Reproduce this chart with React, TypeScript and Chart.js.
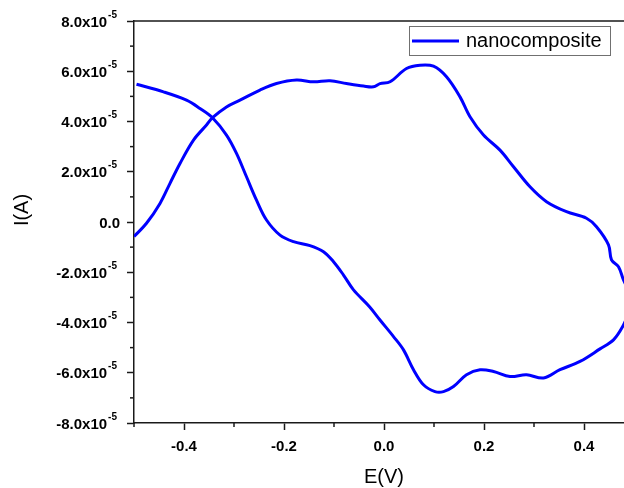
import React, { useEffect, useRef } from "react";
import { Chart, registerables } from "chart.js";

Chart.register(...registerables);

// Cyclic voltammogram of the nanocomposite (E in V, I in A)
const potentialV = [
  -0.5, -0.475, -0.448, -0.428, -0.408, -0.381, -0.355, -0.343, -0.315, -0.288,
  -0.248, -0.215, -0.175, -0.141, -0.108, -0.075, -0.041, -0.021, -0.008, 0.012,
  0.045, 0.072, 0.099, 0.125, 0.152, 0.172, 0.199, 0.232, 0.259, 0.292,
  0.325, 0.365, 0.405, 0.425, 0.449, 0.455, 0.469, 0.479, 0.488, 0.492,
  0.488, 0.479, 0.459, 0.432, 0.392, 0.352, 0.319, 0.285, 0.252, 0.219,
  0.192, 0.165, 0.139, 0.119, 0.102, 0.079, 0.059, 0.039, 0.019, -0.008,
  -0.029, -0.061, -0.081, -0.101, -0.121, -0.148, -0.181, -0.208, -0.235, -0.255,
  -0.275, -0.295, -0.315, -0.343, -0.368, -0.395, -0.441, -0.495,
];

const currentA = [
  -0.58e-5, -0.05e-5, 0.74e-5, 1.54e-5, 2.33e-5, 3.26e-5, 3.86e-5, 4.15e-5, 4.58e-5, 4.85e-5,
  5.25e-5, 5.51e-5, 5.65e-5, 5.58e-5, 5.62e-5, 5.51e-5, 5.41e-5, 5.38e-5, 5.51e-5, 5.58e-5,
  6.11e-5, 6.24e-5, 6.2e-5, 5.78e-5, 4.98e-5, 4.19e-5, 3.46e-5, 2.86e-5, 2.2e-5, 1.4e-5,
  0.81e-5, 0.41e-5, 0.15e-5, -0.19e-5, -0.91e-5, -1.51e-5, -1.78e-5, -2.31e-5, -2.7e-5, -3.18e-5,
  -3.66e-5, -4.1e-5, -4.69e-5, -5.05e-5, -5.55e-5, -5.88e-5, -6.21e-5, -6.08e-5, -6.15e-5, -5.95e-5,
  -5.88e-5, -6.08e-5, -6.55e-5, -6.75e-5, -6.75e-5, -6.48e-5, -5.88e-5, -5.09e-5, -4.56e-5, -3.9e-5,
  -3.37e-5, -2.7e-5, -2.11e-5, -1.58e-5, -1.18e-5, -0.94e-5, -0.78e-5, -0.52e-5, 0.08e-5, 0.87e-5,
  1.8e-5, 2.73e-5, 3.46e-5, 4.15e-5, 4.52e-5, 4.85e-5, 5.18e-5, 5.48e-5,
];

const xMajorTicks = [-0.4, -0.2, 0, 0.2, 0.4];
const xMinorTicks = [-0.5, -0.3, -0.1, 0.1, 0.3, 0.5];
const yMajorTicks = [-8e-5, -6e-5, -4e-5, -2e-5, 0, 2e-5, 4e-5, 6e-5, 8e-5];
const yMinorTicks = [-7e-5, -5e-5, -3e-5, -1e-5, 1e-5, 3e-5, 5e-5, 7e-5];
const yExponent = -5;

const seriesLabel = "nanocomposite";
const xTitle = "E(V)";
const yTitle = "I(A)";

const FONT = "'Liberation Sans', Arial, Helvetica, sans-serif";
const AXIS = "#1a1a1a";
const BLUE = "rgb(0,0,255)";

const decorPlugin = {
  id: "decor",
  afterDraw(chart: any) {
    const { ctx, chartArea, scales } = chart;
    const xs = scales.x;
    const ys = scales.y;
    ctx.save();
    ctx.strokeStyle = AXIS;
    ctx.lineWidth = 1.5;
    ctx.beginPath();
    ctx.moveTo(chartArea.left, chartArea.top);
    ctx.lineTo(chartArea.right, chartArea.top);
    ctx.lineTo(chartArea.right, chartArea.bottom);
    ctx.stroke();

    // minor ticks
    xMinorTicks.forEach((v) => {
      const px = xs.getPixelForValue(v);
      ctx.beginPath();
      ctx.moveTo(px, chartArea.bottom);
      ctx.lineTo(px, chartArea.bottom + 4);
      ctx.stroke();
    });
    yMinorTicks.forEach((v) => {
      const py = ys.getPixelForValue(v);
      ctx.beginPath();
      ctx.moveTo(chartArea.left - 4, py);
      ctx.lineTo(chartArea.left, py);
      ctx.stroke();
    });

    // y tick labels with superscript exponent
    ctx.fillStyle = "#000";
    const scale = Math.pow(10, yExponent);
    const supText = String(yExponent);
    yMajorTicks.forEach((v) => {
      const py = ys.getPixelForValue(v);
      const rightX = chartArea.left - 17;
      if (Math.abs(v) < 1e-12) {
        ctx.font = `bold 15px ${FONT}`;
        ctx.textAlign = "right";
        ctx.textBaseline = "middle";
        ctx.fillText("0.0", chartArea.left - 14, py + 1.5);
        return;
      }
      ctx.font = `bold 10px ${FONT}`;
      const supW = ctx.measureText(supText).width;
      ctx.textAlign = "right";
      ctx.textBaseline = "alphabetic";
      ctx.fillText(supText, rightX, py - 3.3);
      ctx.font = `bold 15px ${FONT}`;
      ctx.textBaseline = "middle";
      ctx.fillText(`${(v / scale).toFixed(1)}x10`, rightX - supW - 1, py + 1.5);
    });

    // y axis title
    ctx.save();
    ctx.translate(22, 210);
    ctx.rotate(-Math.PI / 2);
    ctx.font = `20px ${FONT}`;
    ctx.fillStyle = "#000";
    ctx.textAlign = "center";
    ctx.textBaseline = "middle";
    ctx.fillText(yTitle, 0, 0);
    ctx.restore();

    // legend box
    const ds = chart.data.datasets[0];
    const bx = chartArea.right - 225;
    const by = chartArea.top + 5;
    const bw = 201;
    const bh = 29;
    ctx.fillStyle = "#fff";
    ctx.fillRect(bx, by, bw, bh);
    ctx.strokeStyle = "#707070";
    ctx.lineWidth = 1;
    ctx.strokeRect(bx + 0.5, by + 0.5, bw, bh);
    ctx.strokeStyle = ds.borderColor;
    ctx.lineWidth = 3;
    ctx.beginPath();
    ctx.moveTo(bx + 3, by + 15);
    ctx.lineTo(bx + 50, by + 15);
    ctx.stroke();
    ctx.fillStyle = "#000";
    ctx.font = `20px ${FONT}`;
    ctx.textAlign = "left";
    ctx.textBaseline = "middle";
    ctx.fillText(ds.label, bx + 57, by + 15);
    ctx.restore();
  },
};

export default function App() {
  const ref = useRef<HTMLCanvasElement | null>(null);

  useEffect(() => {
    if (!ref.current) return;
    const points = potentialV.map((e, i) => ({ x: e, y: currentA[i] }));
    const chart = new Chart(ref.current, {
      type: "scatter",
      data: {
        datasets: [
          {
            label: seriesLabel,
            data: points,
            showLine: true,
            borderColor: BLUE,
            backgroundColor: BLUE,
            borderWidth: 3,
            pointRadius: 0,
            tension: 0.35,
          },
        ],
      },
      options: {
        animation: false,
        responsive: false,
        devicePixelRatio: 1,
        layout: { padding: { left: 0, top: 21, right: 16, bottom: 0 } },
        plugins: {
          legend: { display: false },
          tooltip: { enabled: false },
        },
        scales: {
          x: {
            type: "linear",
            min: -0.5,
            max: 0.5,
            afterBuildTicks: (s: any) => {
              s.ticks = xMajorTicks.map((value) => ({ value }));
            },
            afterFit: (s: any) => {
              s.height = 65;
            },
            grid: {
              drawOnChartArea: false,
              drawTicks: true,
              tickLength: 7,
              tickWidth: 1.5,
              tickColor: AXIS,
            },
            border: { display: true, color: AXIS, width: 1.5 },
            ticks: {
              color: "#000",
              font: { family: FONT, size: 15, weight: "bold" },
              padding: 8,
              maxRotation: 0,
              autoSkip: false,
              callback: (v: any) => Number(v).toFixed(1),
            },
            title: {
              display: true,
              text: xTitle,
              color: "#000",
              font: { family: FONT, size: 20 },
              padding: { top: 0, bottom: -1 },
            },
          },
          y: {
            type: "linear",
            min: -8e-5,
            max: 8e-5,
            afterBuildTicks: (s: any) => {
              s.ticks = yMajorTicks.map((value) => ({ value }));
            },
            afterFit: (s: any) => {
              s.width = 134;
            },
            grid: {
              drawOnChartArea: false,
              drawTicks: true,
              tickLength: 7,
              tickWidth: 1.5,
              tickColor: AXIS,
            },
            border: { display: true, color: AXIS, width: 1.5 },
            ticks: { display: false },
            title: { display: false, text: yTitle },
          },
        },
      },
      plugins: [decorPlugin],
    });
    return () => chart.destroy();
  }, []);

  return (
    <div
      style={{
        position: "absolute",
        left: 0,
        top: 0,
        width: 624,
        height: 488,
        overflow: "hidden",
        background: "#fff",
      }}
    >
      <canvas ref={ref} width={650} height={488} style={{ display: "block" }} />
    </div>
  );
}
